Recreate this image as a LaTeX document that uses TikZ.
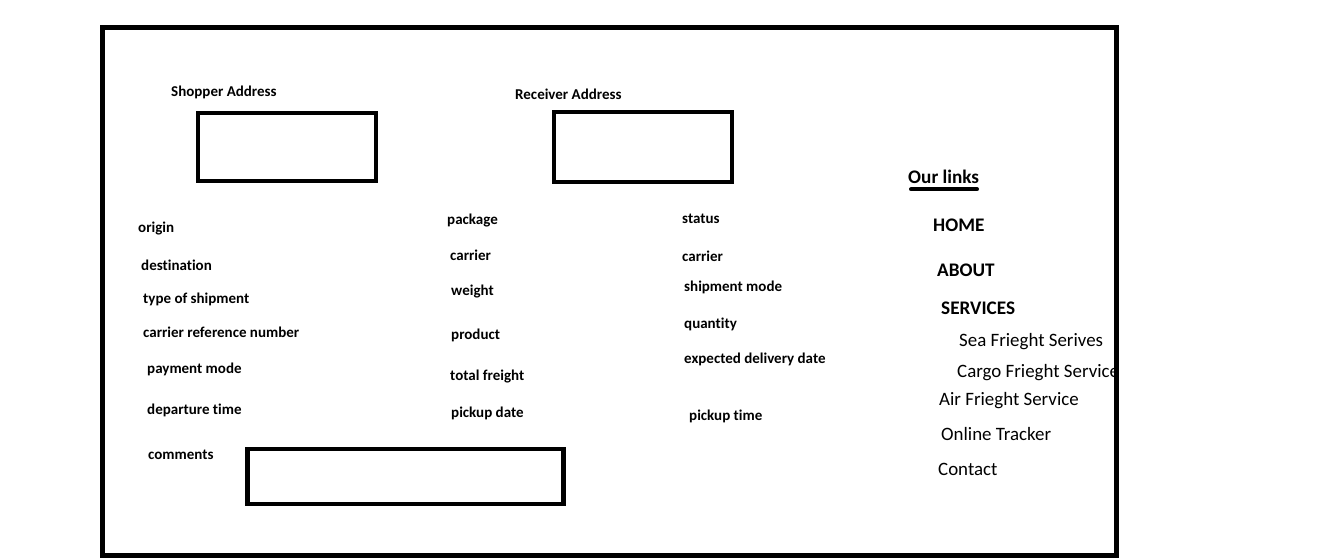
\documentclass[tikz,border=0pt]{standalone}
\usepackage{fontspec}
\setmainfont{Carlito}[Ligatures={NoCommon}]
\begin{document}
\begin{tikzpicture}[x=1pt,y=-1pt,
   lbl/.style={anchor=base west,inner sep=0pt,font=\fontsize{15}{17}\selectfont\bfseries},
   hdr/.style={anchor=base west,inner sep=0pt,font=\fontsize{19.2}{22}\selectfont\bfseries},
   lnk/.style={anchor=base west,inner sep=0pt,font=\fontsize{18.9}{22}\selectfont},
   box/.style={line width=4.5pt}]
   \useasboundingbox (0,0) rectangle (1324,558);

   % address boxes
   \node[lbl] (shopper) at (171,96.7) {Shopper Address};
   \draw[box] (198,113) rectangle (376,181);
   \node[lbl] (receiver) at (515,99.3) {Receiver Address};
   \draw[box] (554,112) rectangle (732,182);

   % first column
   \node[lbl] (origin) at (138,232.7) {origin};
   \node[lbl] (dest) at (141,270) {destination};
   \node[lbl] (type) at (143,303.3) {type of shipment};
   \node[lbl] (ref) at (143,337.3) {carrier reference number};
   \node[lbl] (pay) at (147,373.3) {payment mode};
   \node[lbl] (depart) at (147,414.3) {departure time};
   \node[lbl] (comments) at (148,459.3) {comments};
   \draw[box] (247.5,449) rectangle (563.5,504);

   % second column
   \node[lbl] (package) at (447,224.3) {package};
   \node[lbl] (carrierA) at (450,260) {carrier};
   \node[lbl] (weight) at (451,295) {weight};
   \node[lbl] (product) at (451,339) {product};
   \node[lbl] (freight) at (450,380) {total freight};
   \node[lbl] (pdate) at (451,417.3) {pickup date};

   % third column
   \node[lbl] (status) at (682,223.3) {status};
   \node[lbl] (carrierB) at (682,261) {carrier};
   \node[lbl] (mode) at (684,291) {shipment mode};
   \node[lbl] (qty) at (684,328.3) {quantity};
   \node[lbl] (edd) at (684,363.3) {expected delivery date};
   \node[lbl] (ptime) at (689,420) {pickup time};

   % links
   \begin{scope}
   \clip (0,0) rectangle (1116,558);
   \node[hdr] (links) at (908,183.3) {Our links};
   \draw[line width=4pt,line cap=round] (911,189.3) -- (977,189.3);
   \node[hdr] (home) at (933,231) {HOME};
   \node[hdr] (about) at (937,276.7) {ABOUT};
   \node[hdr] (services) at (941,314) {SERVICES};
   \node[lnk] (sea) at (959,346.7) {Sea Frieght Serives};
   \node[lnk] (cargo) at (957,377.3) {Cargo Frieght Service};
   \node[lnk] (air) at (939,405) {Air Frieght Service};
   \node[lnk] (tracker) at (941,440) {Online Tracker};
   \node[lnk] (contact) at (938,475) {Contact};
   \end{scope}

   \draw[line width=5pt] (102.5,27.5) rectangle (1116.5,555.5);
\end{tikzpicture}
\end{document}
